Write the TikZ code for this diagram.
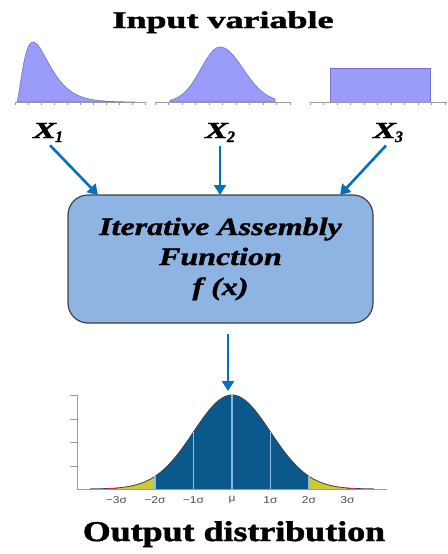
\documentclass[tikz,border=0pt]{standalone}
\usepackage{fontspec}
\setmainfont{Liberation Serif}[BoldFeatures={FakeBold=1.5},BoldItalicFeatures={FakeBold=1.2}]
\newfontfamily\ticksfont{Liberation Sans}
\usepackage{tikz}
\usetikzlibrary{arrows.meta}
\definecolor{flowblue}{RGB}{0,112,192}
\definecolor{boxblue}{RGB}{141,180,226}
\definecolor{pdflav}{RGB}{155,155,250}
\definecolor{pdfedge}{RGB}{115,115,210}
\definecolor{bellblue}{RGB}{11,88,140}
\definecolor{bellline}{RGB}{140,190,230}
\definecolor{tailyellow}{RGB}{205,200,55}
\definecolor{tailred}{RGB}{210,40,80}

\begin{document}
\begin{tikzpicture}[x=1pt,y=-1pt]
	\tikzset{flow/.style={draw=flowblue, line width=2.6pt, -{Triangle[length=10pt,width=12pt]}}}
	\tikzset{axisline/.style={draw=black!40, line width=0.8pt}}
	\tikzset{xlabel/.style={font=\fontsize{23}{24}\selectfont\bfseries\itshape, inner sep=1pt, anchor=base}}
	\tikzset{title/.style={font=\fontsize{24}{26}\selectfont\bfseries, inner sep=0pt, anchor=base}}
	\useasboundingbox (0,0) rectangle (447,554);
	\def\mux{232}\def\sig{38.5}\def\bh{94}\def\by{489}

	%---INPUT PDFS---
	\filldraw[fill=pdflav, draw=pdfedge, line width=0.6pt] (17.05,102) -- plot[domain=17.05:135, samples=90] (\x, {102-60*pow(((\x-17)/10.7)/1.5,1.5)*exp(1.5-(\x-17)/10.7)}) -- (135,102) -- cycle;
	\filldraw[fill=pdflav, draw=pdfedge, line width=0.6pt] (170,102) -- plot[domain=170:275, samples=80] (\x, {102-55*exp(-((\x-220)/(\x<220 ? 19 : 23))^2/2)}) -- (275,102) -- cycle;
	\filldraw[fill=pdflav, draw=pdfedge, line width=0.6pt] (330,102) rectangle (430,68);
	\draw[axisline] (15,102) -- (145,102);
	\draw[axisline] (155,102) -- (290,102);
	\draw[axisline] (310,102) -- (447,102);
	\foreach \t in {0,...,10} {
		\draw[axisline] (15+\t*13,102) -- ++(0,3);
		\draw[axisline] (155+\t*13.5,102) -- ++(0,3);
		\draw[axisline] (310+\t*13.5,102) -- ++(0,3);
	}

	%---NODES---
	\node[title] (intitle) at (223,28) {\scalebox{1.5}[1]{Input variable}};
	\node[xlabel] (x1) at (48,138) {\scalebox{1.5}[1]{X}\kern-1pt\raisebox{-4pt}{\fontsize{16}{16}\selectfont 1}};
	\node[xlabel] (x2) at (220,138) {\scalebox{1.5}[1]{X}\kern-1pt\raisebox{-4pt}{\fontsize{16}{16}\selectfont 2}};
	\node[xlabel] (x3) at (388,138) {\scalebox{1.5}[1]{X}\kern-1pt\raisebox{-4pt}{\fontsize{16}{16}\selectfont 3}};
	\node[draw=black!75, fill=boxblue, rounded corners=20pt, line width=1.2pt,
	      minimum width=305pt, minimum height=128pt, align=center,
	      font=\fontsize{25}{30}\selectfont\bfseries\itshape] (iaf) at (220.5,259)
	      {\scalebox{1.28}[1]{Iterative Assembly}\\\scalebox{1.28}[1]{Function}\\\scalebox{1.28}[1]{f (x)}};
	\node[title, font=\fontsize{28.5}{30}\selectfont\bfseries] (outtitle) at (234,541) {\scalebox{1.26}[1]{Output distribution}};
	\coordinate (in1) at (98,195);
	\coordinate (in2) at (220,195);
	\coordinate (in3) at (340,195);
	\coordinate (outtip) at (228,391);

	%---EDGES---
	\draw[flow, shorten <=3pt] (x1.south) -- (in1);
	\draw[flow, shorten <=3pt] (x2.south) -- (in2);
	\draw[flow, shorten <=3pt] (x3.south) -- (in3);
	\draw[flow, shorten <=10pt] (iaf.south -| outtip) -- (outtip);

	%---OUTPUT BELL---
	\fill[tailred] (100,\by) -- plot[domain=100:116.5, samples=20] (\x, {\by-\bh*exp(-((\x-\mux)/\sig)^2/2)}) -- (116.5,\by) -- cycle;
	\fill[tailred] (347.5,\by) -- plot[domain=347.5:364, samples=20] (\x, {\by-\bh*exp(-((\x-\mux)/\sig)^2/2)}) -- (364,\by) -- cycle;
	\fill[tailyellow] (116.5,\by) -- plot[domain=116.5:155, samples=30] (\x, {\by-\bh*exp(-((\x-\mux)/\sig)^2/2)}) -- (155,\by) -- cycle;
	\fill[tailyellow] (309,\by) -- plot[domain=309:347.5, samples=30] (\x, {\by-\bh*exp(-((\x-\mux)/\sig)^2/2)}) -- (347.5,\by) -- cycle;
	\fill[bellblue] (155,\by) -- plot[domain=155:309, samples=80] (\x, {\by-\bh*exp(-((\x-\mux)/\sig)^2/2)}) -- (309,\by) -- cycle;
	\draw[black!75, line width=0.8pt] plot[domain=90:374, samples=120] (\x, {\by-\bh*exp(-((\x-\mux)/\sig)^2/2)});
	\draw[tailred, line width=1.6pt] (108,\by) -- (117,\by);
	\draw[tailred, line width=1.6pt] (347,\by) -- (356,\by);
	\foreach \k in {-2,-1,0,1,2}
		\draw[bellline, line width=1.2pt] (\mux+\k*\sig,\by) -- (\mux+\k*\sig, {\by-\bh*exp(-(\k)^2/2)});
	\draw[axisline] (77,\by) -- (387,\by);
	\draw[axisline] (77,\by) -- (77,395);
	\foreach \t in {395,419,442,466}
		\draw[axisline] (70,\t) -- (77,\t);

	%---LABELS---
	\foreach \k/\t in {-3/−3σ,-2/−2σ,-1/−1σ,0/μ,1/1σ,2/2σ,3/3σ}
		\node[font=\ticksfont\fontsize{10}{10}\selectfont, text=black!70] (tick\k) at (\mux+\k*\sig,500) {\scalebox{1.2}[1]{\t}};

\end{tikzpicture}
\end{document}
